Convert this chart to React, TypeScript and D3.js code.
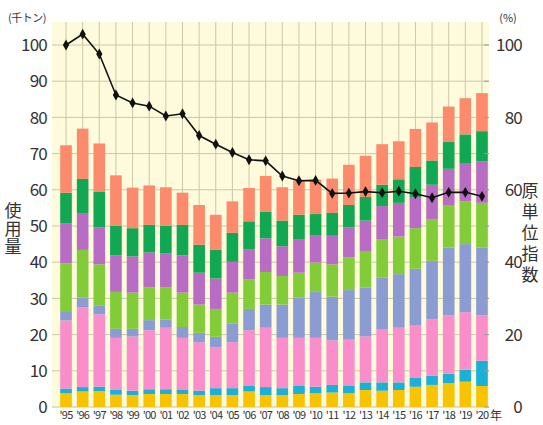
import React from "react";
import * as d3 from "d3";

const years = ["95","96","97","98","99","00","01","02","03","04","05","06","07","08","09","10","11","12","13","14","15","16","17","18","19","20"];

const seriesKeys = ["s1","s2","s3","s4","s5","s6","s7","s8"];
const seriesColors = ["#f8c300","#1bb0d6","#f98ecb","#8b9cd3","#82cc3a","#b96cc3","#12a753","#fb8b6c"];

const s1 = [3.8,4.3,4.4,3.4,3.3,3.6,3.6,3.6,3.3,3.3,3.3,4.3,3.3,3.3,3.6,3.8,4.0,3.8,4.7,4.5,4.7,5.6,6.1,6.6,7.0,5.8];
const s2 = [1.3,1.2,1.2,1.3,1.2,1.3,1.3,1.1,1.2,1.9,1.9,1.5,2.2,1.9,2.2,1.8,2.1,2.0,2.1,2.3,2.1,2.4,2.5,2.6,3.3,7.0];
const s3 = [18.8,22.1,20.0,14.4,15.0,16.3,17.0,14.4,13.4,11.3,12.7,15.4,16.4,13.9,13.3,13.5,12.3,12.8,12.7,14.6,15.1,14.5,15.6,16.1,15.9,12.5];
const s4 = [2.6,2.6,2.5,2.5,2.1,2.8,2.3,3.0,2.6,2.9,5.2,5.9,6.4,9.2,11.1,12.7,12.1,13.7,13.5,14.3,14.8,15.7,16.2,18.8,18.8,18.8];
const s5 = [13.2,13.2,11.3,10.2,10.0,9.1,8.9,9.5,7.8,7.7,8.5,8.2,9.0,7.9,6.9,8.1,8.9,9.0,10.1,10.7,10.4,11.2,11.5,11.7,11.8,12.3];
const s6 = [11.1,10.2,10.2,10.1,10.0,9.6,9.4,10.3,8.8,8.4,8.5,8.3,9.3,8.2,9.3,7.6,7.9,8.3,8.4,9.1,9.3,8.6,9.5,10.0,10.4,11.5];
const s7 = [8.4,9.4,9.8,8.2,7.8,7.6,7.6,8.4,7.7,7.9,8.0,7.7,7.4,7.1,6.7,5.8,6.3,6.2,6.5,5.9,6.5,8.3,6.7,7.4,8.1,8.3];
const s8 = [13.1,13.9,13.4,13.9,11.2,10.9,10.6,8.9,11.0,9.7,8.7,9.2,9.8,9.2,9.5,9.5,9.5,11.1,11.4,11.2,10.5,10.5,10.5,9.8,10.0,10.5];

const indexValues = [100,103,97.5,86.2,84,83.1,80.4,81,75,72.6,70.3,68.3,68,63.8,62.5,62.6,59,59.1,59.5,59.2,59.6,58.9,57.8,59.3,59.3,58.2];

const leftTicks = [0,10,20,30,40,50,60,70,80,90,100];
const rightTicks = [0,20,40,60,80,100];

const W = 543, H = 425;
const plotLeft = 52, plotRight = 489, plotTop = 22, plotBottom = 408;
const FONT = "'Noto Sans CJK JP', 'Noto Sans', sans-serif";
const TEXT = "#333";

export default function App() {
  const x = d3.scaleBand<string>().domain(years).range([57.7, 490.3]).paddingInner(0.3).paddingOuter(0.15);
  const y = d3.scaleLinear().domain([0, 100]).range([407, 45]);
  const rows = years.map((yr, i) => ({
    year: yr, s1: s1[i], s2: s2[i], s3: s3[i], s4: s4[i], s5: s5[i], s6: s6[i], s7: s7[i], s8: s8[i],
  }));
  const stacked = d3.stack<any>().keys(seriesKeys)(rows);
  const cx = (yr: string) => (x(yr) as number) + x.bandwidth() / 2;
  const line = d3.line<number>().x((_, i) => cx(years[i])).y((v) => y(v));
  const diamond = d3.symbol().type(d3.symbolDiamond).size(34)();

  return (
    <svg width={W} height={H} style={{ position: "absolute", left: 0, top: 0, background: "#fff" }}>
      <rect x={plotLeft} y={plotTop} width={plotRight - plotLeft} height={plotBottom - plotTop} fill="#fdfbdc" />
      {leftTicks.map((t) => (
        <line key={"h" + t} x1={plotLeft} x2={plotRight} y1={y(t)} y2={y(t)} stroke="#cbc8a6" strokeWidth={1} />
      ))}
      {years.map((yr) => (
        <line key={"v" + yr} x1={cx(yr)} x2={cx(yr)} y1={plotTop} y2={y(0)} stroke="#cbc8a6" strokeWidth={1} />
      ))}
      {stacked.map((layer, li) => (
        <g key={layer.key} fill={seriesColors[li]}>
          {layer.map((d, i) => (
            <rect key={i} x={x(years[i])} width={x.bandwidth()} y={y(d[1])} height={Math.max(0, y(d[0]) - y(d[1]))} />
          ))}
        </g>
      ))}
      <path d={line(indexValues) || ""} fill="none" stroke="#111" strokeWidth={1.6} />
      {indexValues.map((v, i) => (
        <path key={"m" + i} d={diamond || ""} transform={`translate(${cx(years[i])},${y(v)})`} fill="#111" />
      ))}
      {leftTicks.map((t) => (
        <text key={"lt" + t} x={47} y={y(t)} dy="0.36em" textAnchor="end" fontFamily={FONT} fontSize={17} fill={TEXT} letterSpacing={-0.8}>{t}</text>
      ))}
      {leftTicks.map((t) => (
        <line key={"rtk" + t} x1={plotRight - 5} x2={plotRight} y1={y(t)} y2={y(t)} stroke="#999" strokeWidth={1} />
      ))}
      {rightTicks.map((t) => (
        <text key={"rt" + t} x={522} y={y(t)} dy="0.36em" textAnchor="end" fontFamily={FONT} fontSize={17} fill={TEXT} letterSpacing={-0.8}>{t}</text>
      ))}
      {years.map((yr) => (
        <text key={"xl" + yr} x={cx(yr)} y={419} textAnchor="middle" fontFamily={FONT} fontSize={11} fill={TEXT} letterSpacing={-0.8}>{"'" + yr}</text>
      ))}
      <text x={496} y={420} textAnchor="middle" fontFamily={FONT} fontSize={12} fill={TEXT}>年</text>
      <text x={27} y={22} textAnchor="middle" fontFamily={FONT} fontSize={11} fill={TEXT} letterSpacing={-0.5}>(千トン)</text>
      <text x={508} y={22} textAnchor="middle" fontFamily={FONT} fontSize={11} fill={TEXT}>(%)</text>
      <text x={13} y={202} fontFamily={FONT} fontSize={17} fill={TEXT} letterSpacing={1}
        style={{ writingMode: "vertical-rl" } as any}>使用量</text>
      <text x={530} y={182} fontFamily={FONT} fontSize={17} fill={TEXT} letterSpacing={4}
        style={{ writingMode: "vertical-rl" } as any}>原単位指数</text>
    </svg>
  );
}
